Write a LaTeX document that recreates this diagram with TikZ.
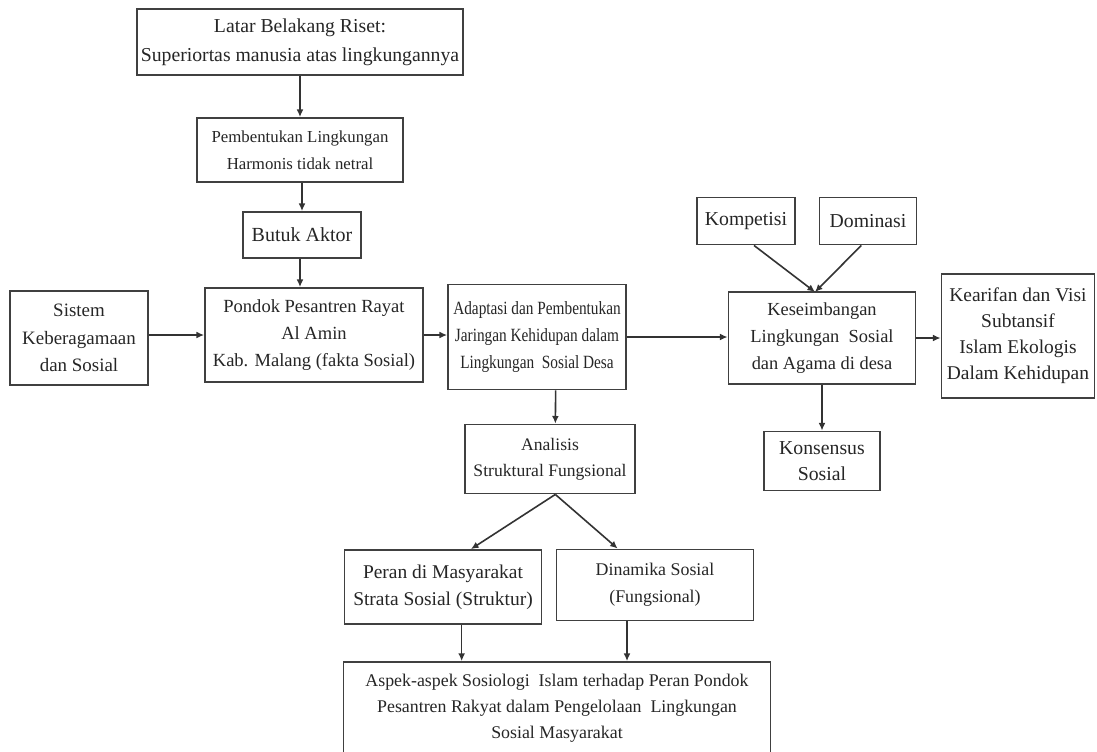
\documentclass[tikz,border=0pt]{standalone}
\usepackage{fontspec}
\setmainfont{Liberation Serif}
\newfontfamily\sempit{Liberation Serif}[FakeStretch=0.82]
\usetikzlibrary{arrows.meta}

\begin{document}
\begin{tikzpicture}[x=0.75pt, y=-0.75pt, every node/.style={font=\fontsize{14}{19.5}\selectfont, text=black!85, align=center}, >={Latex[length=2mm, width=1.8mm]}, kotak/.style={draw=black!75, line width=1.4pt, inner sep=0pt}, panah/.style={->, draw=black!80, line width=1.2pt}]
	\clip (0,0) rectangle (1097,751);
	\fill[white] (0,0) rectangle (1097,751);
	% kolom kiri atas
	\node[kotak, minimum width=245pt, minimum height=49pt, font=\fontsize{14.8}{21.5}\selectfont] (latar) at (300,42) {Latar Belakang Riset:\\Superiortas manusia atas lingkungannya};
	\node[kotak, minimum width=155pt, minimum height=48pt, font=\fontsize{12.6}{20.5}\selectfont] (bentuk) at (300,150) {Pembentukan Lingkungan\\Harmonis tidak netral};
	\node[kotak, minimum width=88.5pt, minimum height=34.5pt, font=\fontsize{15}{20}\selectfont] (aktor) at (302,235) {Butuk Aktor};
	% baris tengah
	\node[kotak, minimum width=103.5pt, minimum height=70.5pt, font=\fontsize{14.2}{20.5}\selectfont] (sistem) at (79,338) {Sistem\\Keberagamaan\\dan Sosial};
	\node[kotak, minimum width=163.5pt, minimum height=70.5pt, font=\fontsize{13.9}{20}\selectfont] (pondok) at (314,335) {Pondok Pesantren Rayat\\Al Amin\\Kab. Malang (fakta Sosial)};
	\node[kotak, minimum width=133.5pt, minimum height=78.75pt, font=\sempit\fontsize{14}{20.5}\selectfont] (adaptasi) at (537,337) {Adaptasi dan Pembentukan\\Jaringan Kehidupan dalam\\Lingkungan~ Sosial Desa};
	\node[kotak, minimum width=73.5pt, minimum height=35.25pt, font=\fontsize{14.8}{20}\selectfont] (kompetisi) at (746,221) {Kompetisi};
	\node[kotak, minimum width=72.75pt, minimum height=35.25pt, font=\fontsize{14.8}{20}\selectfont] (dominasi) at (868,221) {Dominasi};
	\node[kotak, minimum width=140.25pt, minimum height=69pt, font=\fontsize{13.8}{20}\selectfont] (seimbang) at (822,338) {Keseimbangan\\Lingkungan~ Sosial\\dan Agama di desa};
	\node[kotak, minimum width=114.75pt, minimum height=93pt, font=\fontsize{14.6}{19.5}\selectfont] (kearifan) at (1018,336) {Kearifan dan Visi\\Subtansif\\Islam Ekologis\\Dalam Kehidupan};
	\node[kotak, minimum width=87pt, minimum height=44.25pt, font=\fontsize{14.8}{20}\selectfont] (konsensus) at (822,461) {Konsensus\\Sosial};
	% analisis ke bawah
	\node[kotak, minimum width=127.5pt, minimum height=51.75pt, font=\fontsize{13.2}{19.5}\selectfont] (analisis) at (550,459) {Analisis\\Struktural Fungsional};
	\node[kotak, minimum width=147.75pt, minimum height=55.5pt, font=\fontsize{14.6}{20}\selectfont] (peran) at (443,587) {Peran di Masyarakat\\Strata Sosial (Struktur)};
	\node[kotak, minimum width=147.75pt, minimum height=53.25pt, font=\fontsize{13.4}{20}\selectfont] (dinamika) at (655,585) {Dinamika Sosial\\(Fungsional)};
	\node[kotak, minimum width=320.25pt, minimum height=69pt, font=\fontsize{13.4}{19.5}\selectfont] (aspek) at (557,708) {Aspek-aspek Sosiologi~ Islam terhadap Peran Pondok\\Pesantren Rakyat dalam Pengelolaan~ Lingkungan\\Sosial Masyarakat};
	\coordinate (temu) at (815,292);
	% panah
	\draw[panah] (latar) -- (bentuk);
	\draw[panah] (bentuk.south -| aktor.north) -- (aktor.north);
	\draw[panah] (aktor.south -| bentuk.south) -- (pondok.north -| bentuk.south);
	\draw[panah] (sistem.east |- pondok.west) -- (pondok.west);
	\draw[panah] (pondok.east) -- (adaptasi.west |- pondok.east);
	\draw[panah] (adaptasi.east) -- (seimbang.west |- adaptasi.east);
	\draw[panah] (seimbang.east) -- (kearifan.west |- seimbang.east);
	\draw[panah] ([xshift=6pt]kompetisi.south) -- (temu);
	\draw[panah] ([xshift=-5pt]dominasi.south) -- (temu);
	\draw[panah] (seimbang.south) -- (konsensus.north);
	\draw[panah] ([xshift=14pt]adaptasi.south) -- ([xshift=4pt]analisis.north);
	\draw[panah] ([xshift=4pt]analisis.south) -- ([xshift=21pt]peran.north);
	\draw[panah] ([xshift=4pt]analisis.south) -- ([xshift=-28pt]dinamika.north);
	\draw[panah] ([xshift=14pt]peran.south) -- ([xshift=14pt]peran.south |- aspek.north);
	\draw[panah] ([xshift=-21pt]dinamika.south) -- ([xshift=-21pt]dinamika.south |- aspek.north);
\end{tikzpicture}
\end{document}
